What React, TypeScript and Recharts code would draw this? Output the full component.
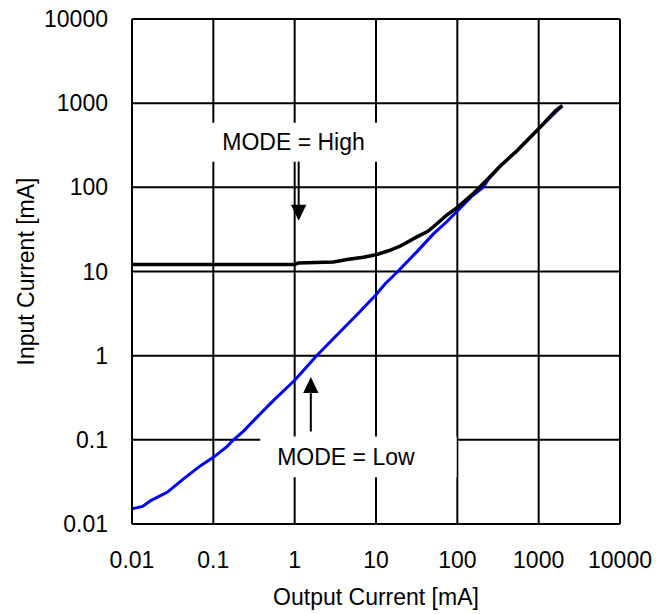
import {
  LineChart,
  Line,
  XAxis,
  YAxis,
  CartesianGrid,
  ReferenceArea,
  ReferenceLine,
  ReferenceDot,
  Label,
} from 'recharts';

// Axis ticks (log decades) and their printed labels
const xTicks = [0.01, 0.1, 1, 10, 100, 1000, 10000];
const xTickLabels = ['0.01', '0.1', '1', '10', '100', '1000', '10000'];
const yTicks = [0.01, 0.1, 1, 10, 100, 1000, 10000];
const yTickLabels = ['0.01', '0.1', '1', '10', '100', '1000', '10000'];

// MODE = Low (blue) : output current [mA] -> input current [mA]
const lowX = [
  0.01, 0.0135, 0.017, 0.027, 0.043, 0.069, 0.1, 0.147, 0.177, 0.235, 0.378, 0.55,
  1, 1.86, 3, 5.9, 10, 12.9, 18.5, 31.7, 50.8, 74, 103, 150, 209, 240, 335, 537, 1000,
  1955,
];
const lowY = [
  0.0152, 0.0162, 0.019, 0.0238, 0.0344, 0.049, 0.062, 0.083, 0.1, 0.127, 0.204, 0.294,
  0.51, 1, 1.6, 3.1, 5.3, 7.1, 10, 17.1, 28, 39, 54, 78, 100, 124, 178, 270, 496, 936,
];

// MODE = High (black)
const highX = [
  0.01, 1, 1.1, 3, 4.4, 7, 10, 14, 19.8, 31.8, 43, 50.8, 74, 103, 158, 230, 335, 537,
  1000, 1622, 1955,
];
const highY = [
  12.1, 12.1, 12.6, 13, 13.9, 14.8, 15.8, 17.5, 20, 25.8, 29.8, 34, 46.8, 59, 85, 122,
  178, 270, 496, 815, 936,
];

// Annotation boxes and arrows (data units)
const boxLabels = ['MODE = High', 'MODE = Low'];
const boxX1 = [0.0796, 0.377];
const boxX2 = [13, 98];
const boxY1 = [587, 0.1094];
const boxY2 = [202, 0.0359];
const arrowX = [1.12, 1.58];
const arrowTailY = [202, 0.1256];
const arrowBaseY = [61.5, 0.359];
const arrowTipY = [40, 0.556];

const lowData = lowX.map((x, i) => ({ x, y: lowY[i] }));
const highData = highX.map((x, i) => ({ x, y: highY[i] }));

const FONT = '"Liberation Sans", Arial, sans-serif';
const FS = 23;

const renderYLabel = (props: any) => {
  const vb = props.viewBox || {};
  const cy = vb.height ? vb.y + vb.height / 2 : 271;
  const cx = 26;
  return (
    <text
      x={cx}
      y={cy}
      transform={`rotate(-90, ${cx}, ${cy})`}
      textAnchor="middle"
      dominantBaseline="central"
      fill="#000"
      fontSize={FS}
      fontFamily={FONT}
    >
      Input Current [mA]
    </text>
  );
};

const renderXLabel = (props: any) => {
  const vb = props.viewBox || {};
  const cx = vb.width ? vb.x + vb.width / 2 : 376;
  return (
    <text x={cx} y={604.5} textAnchor="middle" fill="#000" fontSize={FS} fontFamily={FONT}>
      Output Current [mA]
    </text>
  );
};

const arrowHead = (up: boolean) => (props: any) => {
  const { cx, cy } = props;
  const h = 16;
  const w = 7.7;
  const by = up ? cy + h : cy - h;
  return <polygon points={`${cx - w},${by} ${cx + w},${by} ${cx},${cy}`} fill="#000" />;
};

export default function App() {
  return (
    <div style={{ position: 'absolute', left: 0, top: 0, background: '#fff' }}>
      <LineChart
        width={671}
        height={614}
        margin={{ top: 19, right: 51, bottom: 50, left: 32 }}
        style={{ fontFamily: FONT }}
      >
        <CartesianGrid stroke="#000" strokeWidth={2} />
        <XAxis
          dataKey="x"
          type="number"
          scale="log"
          domain={[0.01, 10000]}
          ticks={xTicks}
          allowDataOverflow
          height={40}
          tickLine={false}
          tickSize={0}
          tickMargin={28}
          axisLine={{ stroke: '#000', strokeWidth: 2 }}
          tick={{ fill: '#000', fontSize: FS, fontFamily: FONT }}
          tickFormatter={(v: number) => xTickLabels[xTicks.indexOf(v)] ?? String(v)}
        >
          <Label content={renderXLabel} />
        </XAxis>
        <YAxis
          type="number"
          scale="log"
          domain={[0.01, 10000]}
          ticks={yTicks}
          allowDataOverflow
          width={100}
          tickLine={false}
          tickSize={0}
          tickMargin={24}
          axisLine={{ stroke: '#000', strokeWidth: 2 }}
          tick={{ fill: '#000', fontSize: FS, fontFamily: FONT }}
          tickFormatter={(v: number) => yTickLabels[yTicks.indexOf(v)] ?? String(v)}
        >
          <Label content={renderYLabel} />
        </YAxis>

        {boxLabels.map((text, i) => (
          <ReferenceArea
            key={text}
            x1={boxX1[i]}
            x2={boxX2[i]}
            y1={boxY1[i]}
            y2={boxY2[i]}
            fill="#fff"
            fillOpacity={1}
            stroke="none"
            label={{
              value: text,
              position: 'insideLeft',
              offset: 17,
              fill: '#000',
              fontSize: FS,
              fontFamily: FONT,
            }}
          />
        ))}

        {arrowX.map((x, i) => (
          <ReferenceLine
            key={`shaft-${i}`}
            segment={[
              { x, y: arrowTailY[i] },
              { x, y: arrowBaseY[i] },
            ]}
            stroke="#000"
            strokeWidth={2}
          />
        ))}
        {arrowX.map((x, i) => (
          <ReferenceDot
            key={`head-${i}`}
            x={x}
            y={arrowTipY[i]}
            r={8}
            shape={arrowHead(i === 1)}
          />
        ))}

        <Line
          data={lowData}
          dataKey="y"
          type="linear"
          stroke="#0000ff"
          strokeWidth={3}
          dot={false}
          activeDot={false}
          isAnimationActive={false}
        />
        <Line
          data={highData}
          dataKey="y"
          type="linear"
          stroke="#000"
          strokeWidth={3.5}
          dot={false}
          activeDot={false}
          isAnimationActive={false}
        />
      </LineChart>
    </div>
  );
}
